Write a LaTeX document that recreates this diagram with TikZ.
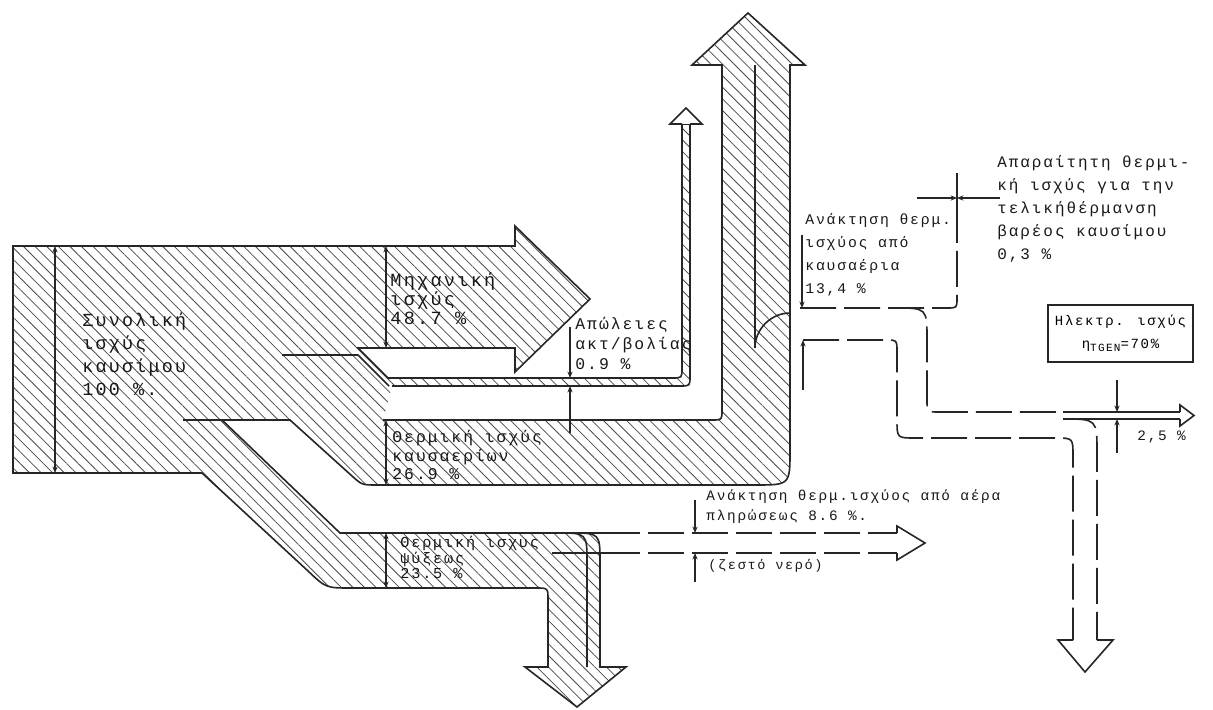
\documentclass[tikz,border=0pt]{standalone}
\usepackage{fontspec}
\setmainfont{Liberation Sans}
\newfontfamily\tw[LetterSpace=12]{Liberation Mono}
\usetikzlibrary{patterns.meta,arrows.meta}
\tikzset{
  band/.style={line width=0.8pt, draw=black!85},
  hatch/.style={pattern={Lines[angle=-45,distance=4.1pt,line width=0.4pt]}, pattern color=black!70},
  dimline/.style={line width=0.55pt, draw=black!85},
  tip/.style={-{Stealth[length=3.2pt,width=2.6pt]}},
  tips/.style={{Stealth[length=3.2pt,width=2.6pt]}-{Stealth[length=3.2pt,width=2.6pt]}},
  rec/.style={line width=0.8pt, draw=black!85, dash pattern=on 18pt off 4pt},
  lab/.style={anchor=north west, inner sep=0pt, align=left, text=black!90},
}
\newcommand{\fsz}[2]{\tw\fontsize{#1}{#2}\selectfont}
\begin{document}
\begin{tikzpicture}[x=0.5pt,y=-0.5pt]
\fill[white] (0,0) rectangle (1213,710);
\useasboundingbox (0,0) rectangle (1213,710);
\def\Hmain{(383,420) -- (712,420) .. controls (722,420) .. (722,410) -- (722,65) -- (692,65) -- (748,13) -- (805,65) -- (790,65) -- (790,450) .. controls (790,485) .. (755,485) -- (377,485) .. controls (362,485) .. (352,476) -- (290,420) -- (222,420) -- (340,533) -- (570,533) .. controls (600,533) .. (600,563) -- (600,667) -- (626,667) -- (577,707) -- (525,667) -- (548,667) -- (548,600) .. controls (548,588) .. (536,588) -- (351,588) .. controls (326,588) .. (308,571) -- (202,473) -- (13,473) -- (13,246) -- (515,246) -- (515,226) -- (590,299) -- (515,372) -- (515,348) -- (358,348) -- (388,378) -- (672,378) .. controls (682,378) .. (682,368) -- (682,124) -- (690,124) -- (690,376) .. controls (690,386) .. (680,386) -- (392,386)}
\fill[hatch] \Hmain -- cycle;
\draw[band] \Hmain;
% inner separating lines
\draw[band] (389,386) -- (358,355) -- (282,355);
\draw[band] (183,420) -- (222,420);
\draw[band] (755,65) -- (755,348);
\draw[band] (755,348) .. controls (755,329) and (771,313) .. (790,313);
\draw[band] (557,533) .. controls (587,533) .. (587,563) -- (587,667);
% thin loss arrow head
\draw[band,fill=white] (682,124) -- (670,124) -- (686,108) -- (702,124) -- (690,124);
% heat recovery from exhaust (dashed)
\draw[rec] (800,308) -- (947,308) .. controls (957,308) .. (957,298) -- (957,215);
\draw[band] (957,215) -- (957,173);
\draw[rec] (895,308) .. controls (927,308) .. (927,340) -- (927,400) .. controls (927,412) .. (939,412) -- (1063,412);
\draw[rec] (803,340) -- (885,340) .. controls (897,340) .. (897,352) -- (897,420) .. controls (897,438) .. (915,438) -- (1055,438) .. controls (1073,438) .. (1073,456) -- (1073,640);
\draw[rec] (1063,419) .. controls (1097,419) .. (1097,453) -- (1097,640);
\draw[band] (1063,412) -- (1180,412) (1063,419) -- (1180,419);
\draw[band] (1180,412) -- (1180,405) -- (1194,415.5) -- (1180,426) -- (1180,419);
\draw[band] (1073,640) -- (1058,640) -- (1085,672) -- (1113,640) -- (1097,640);
% air recovery 8.6
\draw[band] (570,533) -- (604,533);
\draw[rec] (604,533) -- (897,533);
\draw[band] (552,553) -- (604,553);
\draw[rec] (604,553) -- (897,553);
\draw[band] (897,533) -- (897,526) -- (925,543) -- (897,560) -- (897,553);
% dimension arrows
\draw[dimline,tips] (55,246) -- (55,473);
\draw[dimline,tips] (386,246) -- (386,348);
\draw[dimline,tips] (386,420) -- (386,485);
\draw[dimline,tips] (386,533) -- (386,588);
\draw[dimline,tip] (570,327) -- (570,378);
\draw[dimline,tip] (570,433) -- (570,386);
\draw[dimline,tip] (802,235) -- (802,308);
\draw[dimline,tip] (803,390) -- (803,340);
\draw[dimline,tip] (917,198) -- (957,198);
\draw[dimline,tip] (1000,198) -- (957,198);
\draw[dimline,tip] (695,500) -- (695,533);
\draw[dimline,tip] (695,582) -- (695,553);
\draw[dimline,tip] (1117,380) -- (1117,412);
\draw[dimline,tip] (1117,453) -- (1117,419);
% labels
\node[lab,font=\fsz{9.2}{11.5}] (total) at (82,312) {Συνολική\\ισχύς\\καυσίμου\\100 \%.};
\node[lab,font=\fsz{9.3}{9.6}] (mech) at (390,272) {Μηχανική\\ ισχύς\\ 48.7 \%};
\node[lab,font=\fsz{8.2}{10}] (loss) at (575,317) {Απώλειες\\ακτ/βολίας\\0.9 \%};
\node[lab,font=\fsz{8.2}{9.3}] (exh) at (392,430) {Θερμική ισχύς\\καυσαερίων\\ 26.9 \%};
\node[lab,font=\fsz{7.6}{7.8}] (cool) at (400,536) {Θερμική ισχυς\\ψύξεως\\23.5 \%};
\node[lab,font=\fsz{7.4}{11.5}] (recx) at (805,213) {Ανάκτηση θερμ.\\ισχύος από\\ καυσαέρια\\ 13,4 \%};
\node[lab,font=\fsz{8}{11.5}] (fuel) at (997,155) {Απαραίτητη θερμι-\\κή ισχύς για την\\τελικήθέρμανση\\βαρέος καυσίμου\\ 0,3 \%};
\node[draw=black!85,line width=0.7pt,minimum width=72.5pt,minimum height=28.5pt,inner sep=1pt,align=center,font=\fsz{7}{11.5}] (elec) at (1120.5,333.5) {Ηλεκτρ. ισχύς\\η\raisebox{-0.4ex}{\fontsize{5.5}{6}\selectfont TGEN}=70\%};
\node[lab,font=\fsz{7.2}{8}] (p25) at (1137,430) {2,5 \%};
\node[lab,font=\fsz{7.2}{10}] (air) at (706,489) {Ανάκτηση θερμ.ισχύος από αέρα\\πληρώσεως 8.6 \%.};
\node[lab,font=\fsz{6.8}{8}] (water) at (708,559) {(ζεστό νερό)};
\end{tikzpicture}
\end{document}
